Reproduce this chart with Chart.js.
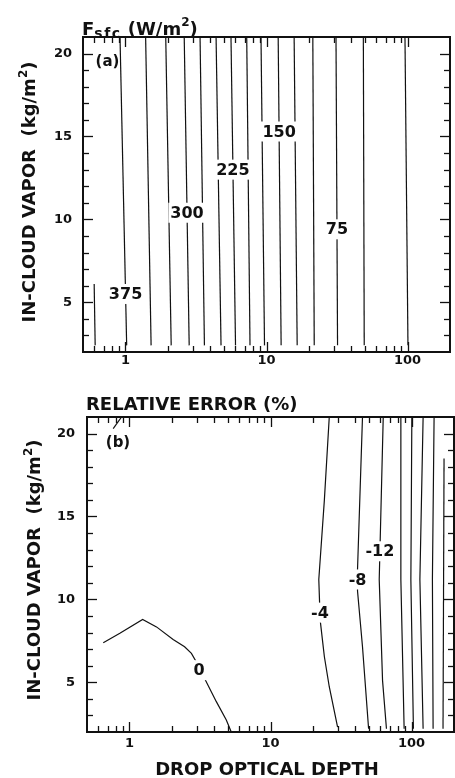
<!DOCTYPE html>
<html>
<head>
<meta charset="utf-8">
<title>Surface flux and relative error</title>
<script src="https://cdn.jsdelivr.net/npm/chart.js@4.4.0/dist/chart.umd.min.js"></script>
<style>
    html, body { margin: 0; padding: 0; background: #fff; }
    body { width: 455px; height: 778px; position: relative; overflow: hidden; }
    canvas { position: absolute; left: 0; display: block; }
    #fluxChart { top: 0; }
    #errorChart { top: 390px; }
</style>
</head>
<body>
<canvas id="fluxChart" width="455" height="390"></canvas>
<canvas id="errorChart" width="455" height="388"></canvas>
<script>
// Axes shared by both panels
const tauRange = [0.5, 200];
const vaporRange = [2, 21];
const tauTicks = [1, 10, 100];
const tauMinorTicks = [0.6, 0.7, 0.8, 0.9, 2, 3, 4, 5, 6, 7, 8, 9, 20, 30, 40, 50, 60, 70, 80, 90];
const vaporTicks = [5, 10, 15, 20];
const vaporMinorTicks = [3, 4, 6, 7, 8, 9, 11, 12, 13, 14, 16, 17, 18, 19];

// (a) surface flux contours (W/m2), each line runs from its top vapor to its bottom vapor
const fluxLevels = [400, 375, 350, 325, 300, 275, 250, 225, 200, 175, 150, 125, 100, 75, 50, 25];
const fluxTauTop = [0.60, 0.915, 1.39, 1.93, 2.61, 3.38, 4.39, 5.60, 7.24, 9.14, 12.1, 15.7, 21.3, 31.1, 48.6, 95.9];
const fluxTauBottom = [0.61, 1.02, 1.52, 2.11, 2.83, 3.63, 4.76, 6.03, 7.64, 9.68, 12.7, 16.5, 21.8, 31.9, 49.3, 100.7];
const fluxVaporTop = [6.1, 21, 21, 21, 21, 21, 21, 21, 21, 21, 21, 21, 21, 21, 21, 21];
const fluxVaporBottom = [2.4, 2.4, 2.4, 2.4, 2.4, 2.4, 2.4, 2.4, 2.4, 2.4, 2.4, 2.4, 2.4, 2.4, 2.4, 2.4];
const fluxLabelLevels = [375, 300, 225, 150, 75];
const fluxLabelVapor = [5.5, 10.4, 13.0, 15.3, 9.4];

// (b) relative error contours (%)
const errorLevels = [0, 0, -4, -8, -12, -16, -20, -24, -28, -32];
const errorTau = [
    [0.652, 0.855, 1.24, 1.555, 2.04, 2.46, 2.75, 2.98, 3.11, 3.41, 4.13, 4.86, 5.27],
    [0.767, 0.879],
    [26.1, 24.1, 22.0, 22.5, 24.1, 26.1, 29.9],
    [44.9, 41.4, 41.4, 44.9, 49.6],
    [63.0, 59.0, 62.3, 66.4],
    [84.0, 84.0, 88.6],
    [100.5, 98.9, 103.1],
    [120.8, 114.6, 120.8],
    [144.5, 140.6, 142.2],
    [170, 167.2]
];
const errorVapor = [
    [7.38, 7.95, 8.79, 8.34, 7.58, 7.14, 6.74, 6.23, 5.73, 5.23, 3.83, 2.72, 2.0],
    [20.3, 21],
    [21, 16, 11.2, 8.75, 6.54, 4.73, 2.3],
    [21, 11.8, 10.5, 7.14, 2.2],
    [21, 11.2, 5.1, 2.2],
    [21, 11.2, 2.2],
    [21, 11.2, 2.2],
    [21, 11.2, 2.2],
    [21, 11.2, 2.2],
    [18.5, 2.2]
];
const errorLabelLevels = [0, -4, -8, -12];
const errorLabelVapor = [5.73, 9.2, 11.2, 12.9];

const FONT = "'DejaVu Sans', 'Liberation Sans', sans-serif";
const INK = '#111';

function contourDatasets(levels, tauLists, vaporLists) {
    return levels.map((level, i) => ({
        label: String(level),
        data: tauLists[i].map((t, j) => ({ x: t, y: vaporLists[i][j] })),
        showLine: true,
        borderColor: INK,
        borderWidth: 1.2,
        pointRadius: 0,
        tension: 0,
        fill: false
    }));
}

// position along a contour (log tau) where it crosses the given vapor
function tauOnContour(points, vapor) {
    for (let i = 0; i < points.length - 1; i++) {
        const a = points[i], b = points[i + 1];
        if ((vapor - a.y) * (vapor - b.y) <= 0 && a.y !== b.y) {
            const f = (vapor - a.y) / (b.y - a.y);
            return Math.pow(10, Math.log10(a.x) + f * (Math.log10(b.x) - Math.log10(a.x)));
        }
    }
    return points[0].x;
}

function drawParts(ctx, parts, x, y, align) {
    const widths = parts.map(p => {
        ctx.font = `bold ${p.size}px ${FONT}`;
        ctx.letterSpacing = p.spacing || '0px';
        return ctx.measureText(p.text).width;
    });
    let cx = align === 'center' ? x - widths.reduce((s, w) => s + w, 0) / 2 : x;
    parts.forEach((p, i) => {
        ctx.font = `bold ${p.size}px ${FONT}`;
        ctx.letterSpacing = p.spacing || '0px';
        ctx.fillText(p.text, cx, y + (p.dy || 0));
        cx += widths[i];
    });
    ctx.letterSpacing = '0px';
}

const contourDecor = {
    id: 'contourDecor',
    afterDraw(chart, args, opts) {
        const { ctx, chartArea: area, scales: { x, y } } = chart;
        ctx.save();

        // contour labels on a white patch over the line
        ctx.font = `bold 16px ${FONT}`;
        ctx.textAlign = 'center';
        ctx.textBaseline = 'middle';
        opts.labelLevels.forEach((level, i) => {
            const ds = chart.data.datasets.find(d => d.label === String(level));
            const vapor = opts.labelVapor[i];
            const px = x.getPixelForValue(tauOnContour(ds.data, vapor));
            const py = y.getPixelForValue(vapor);
            const text = String(level);
            const w = ctx.measureText(text).width;
            ctx.fillStyle = '#fff';
            ctx.fillRect(px - w / 2 - 2, py - 10, w + 4, 20);
            ctx.fillStyle = INK;
            ctx.fillText(text, px, py + 1);
        });

        // inward tick marks on all four sides
        ctx.strokeStyle = INK;
        ctx.lineWidth = 1.3;
        const seg = (x1, y1, x2, y2) => {
            ctx.beginPath();
            ctx.moveTo(x1, y1);
            ctx.lineTo(x2, y2);
            ctx.stroke();
        };
        const xTick = (v, len) => {
            const px = Math.round(x.getPixelForValue(v)) + 0.5;
            seg(px, area.bottom, px, area.bottom - len);
            seg(px, area.top, px, area.top + len);
        };
        const yTick = (v, len) => {
            const py = Math.round(y.getPixelForValue(v)) + 0.5;
            seg(area.left, py, area.left + len, py);
            seg(area.right, py, area.right - len, py);
        };
        tauTicks.forEach(v => xTick(v, 10));
        tauMinorTicks.forEach(v => xTick(v, 6));
        vaporTicks.forEach(v => yTick(v, 10));
        vaporMinorTicks.forEach(v => yTick(v, 6));

        ctx.lineWidth = 2;
        ctx.strokeRect(area.left, area.top, area.right - area.left, area.bottom - area.top);

        // titles
        ctx.fillStyle = INK;
        ctx.textBaseline = 'alphabetic';
        ctx.textAlign = 'left';
        drawParts(ctx, opts.title.parts, opts.title.x, opts.title.y, 'left');

        ctx.textBaseline = 'middle';
        drawParts(ctx, [{ text: opts.tag.text, size: 15 }], opts.tag.x, opts.tag.y, 'center');

        ctx.textBaseline = 'alphabetic';
        ctx.save();
        ctx.translate(opts.yTitle.x, opts.yTitle.y);
        ctx.rotate(-Math.PI / 2);
        drawParts(ctx, [
            { text: 'IN-CLOUD VAPOR  (kg/m', size: 18 },
            { text: '2', size: 12, dy: -8 },
            { text: ')', size: 18 }
        ], 0, 0, 'center');
        ctx.restore();

        if (opts.xTitle) {
            drawParts(ctx, [{ text: opts.xTitle.text, size: 18 }], opts.xTitle.x, opts.xTitle.y, 'center');
        }
        ctx.restore();
    }
};

function makeContourChart(canvasId, datasets, frame, decor) {
    const tickFont = { family: FONT, size: 13, weight: 'bold' };
    return new Chart(document.getElementById(canvasId), {
        type: 'scatter',
        data: { datasets },
        options: {
            responsive: false,
            animation: false,
            devicePixelRatio: 1,
            layout: { padding: { top: frame.top, right: frame.right, left: 0, bottom: 0 } },
            plugins: {
                legend: { display: false },
                tooltip: { enabled: false },
                contourDecor: decor
            },
            scales: {
                x: {
                    type: 'logarithmic',
                    min: tauRange[0],
                    max: tauRange[1],
                    grid: { display: false, drawTicks: false },
                    border: { display: false },
                    afterBuildTicks: s => { s.ticks = tauTicks.map(v => ({ value: v })); },
                    afterFit: s => { s.height = frame.xHeight; },
                    ticks: {
                        autoSkip: false,
                        maxRotation: 0,
                        padding: frame.xPad,
                        color: INK,
                        font: tickFont,
                        callback: v => String(v)
                    }
                },
                y: {
                    type: 'linear',
                    min: vaporRange[0],
                    max: vaporRange[1],
                    grid: { display: false, drawTicks: false },
                    border: { display: false },
                    afterBuildTicks: s => { s.ticks = vaporTicks.map(v => ({ value: v })); },
                    afterFit: s => { s.width = frame.yWidth; },
                    ticks: {
                        autoSkip: false,
                        padding: frame.yPad,
                        color: INK,
                        font: tickFont,
                        callback: v => String(v)
                    }
                }
            }
        },
        plugins: [contourDecor]
    });
}

document.addEventListener('DOMContentLoaded', () => {
    const fluxTau = fluxLevels.map((_, i) => [fluxTauTop[i], fluxTauBottom[i]]);
    const fluxVapor = fluxLevels.map((_, i) => [fluxVaporTop[i], fluxVaporBottom[i]]);

    makeContourChart('fluxChart',
        contourDatasets(fluxLevels, fluxTau, fluxVapor),
        { top: 37, right: 5, yWidth: 83, xHeight: 38, xPad: 1, yPad: 11 },
        {
            labelLevels: fluxLabelLevels,
            labelVapor: fluxLabelVapor,
            title: {
                x: 82, y: 35,
                parts: [
                    { text: 'F', size: 18 },
                    { text: 'sfc', size: 14, dy: 3, spacing: '1.5px' },
                    { text: ' (W/m', size: 18 },
                    { text: '2', size: 12, dy: -9 },
                    { text: ')', size: 18 }
                ]
            },
            tag: { text: '(a)', x: 107.5, y: 62 },
            yTitle: { x: 35, y: 192 },
            xTitle: null
        });

    makeContourChart('errorChart',
        contourDatasets(errorLevels, errorTau, errorVapor),
        { top: 27, right: 1, yWidth: 87, xHeight: 46, xPad: 4, yPad: 12 },
        {
            labelLevels: errorLabelLevels,
            labelVapor: errorLabelVapor,
            title: {
                x: 86, y: 20,
                parts: [{ text: 'RELATIVE ERROR (%)', size: 18 }]
            },
            tag: { text: '(b)', x: 118, y: 53 },
            yTitle: { x: 40, y: 180 },
            xTitle: { text: 'DROP OPTICAL DEPTH', x: 267, y: 385 }
        });
});
</script>
</body>
</html>
